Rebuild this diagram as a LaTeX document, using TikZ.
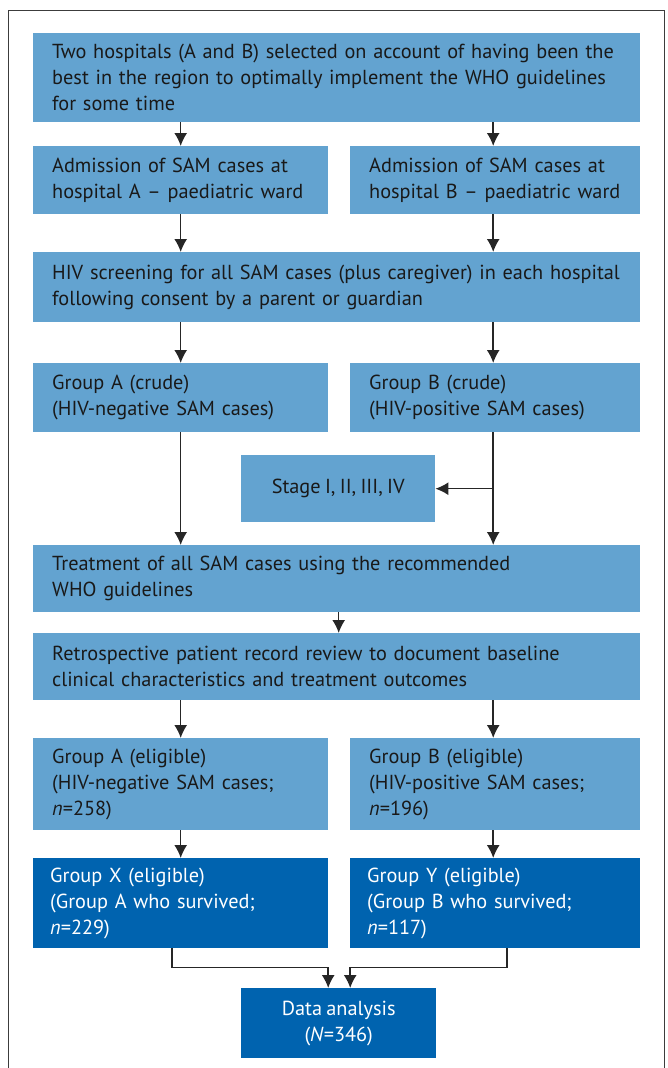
\documentclass[tikz,border=0pt]{standalone}
\usepackage{fontspec}
\setmainfont{PT Sans}[WordSpace=0.8]
\usetikzlibrary{arrows.meta}
\definecolor{lightb}{RGB}{99,163,208}
\definecolor{darkb}{RGB}{0,99,175}
\definecolor{framec}{RGB}{60,60,60}
\begin{document}
\begin{tikzpicture}[x=1pt,y=-1pt,
  box/.style={fill=lightb, text=black!90, inner xsep=19pt, inner ysep=0pt, align=left, anchor=north west, font=\fontsize{20.3}{26}\selectfont},
  dbox/.style={box, fill=darkb, text=white, inner xsep=17pt},
  cbox/.style={fill=lightb, text=black!90, inner sep=0pt, align=center, anchor=north west, font=\fontsize{20.3}{26}\selectfont},
  arr/.style={draw=black!85, line width=1.5pt, -{Latex[length=13pt,width=13pt]}},
  framebox/.style={draw=framec, line width=1pt}]
\useasboundingbox (0,0) rectangle (667,1068);
\draw[framebox] (8,10) rectangle (664,1090);

\node[box, text width=569pt, minimum height=89pt] (top) at (33,33)
  {Two hospitals (A and B) selected on account of having been the\\best in the region to optimally implement the WHO guidelines\\for some time};
\node[box, text width=257pt, minimum height=68pt] (adA) at (33,146)
  {Admission of SAM cases at\\hospital A -- paediatric ward};
\node[box, text width=252pt, minimum height=68pt] (adB) at (350,146)
  {Admission of SAM cases at\\hospital B -- paediatric ward};
\node[box, text width=569pt, minimum height=70pt] (hiv) at (33,252)
  {HIV screening for all SAM cases (plus caregiver) in each hospital\\following consent by a parent or guardian};
\node[box, text width=257pt, minimum height=69pt] (gA) at (33,363)
  {Group A (crude)\\(HIV-negative SAM cases)};
\node[box, text width=252pt, minimum height=69pt] (gB) at (350,363)
  {Group B (crude)\\(HIV-positive SAM cases)};
\node[cbox, minimum width=194pt, minimum height=67pt] (stage) at (241,455)
  {Stage I, II, III, IV};
\node[box, text width=569pt, minimum height=67pt] (treat) at (33,545)
  {Treatment of all SAM cases using the recommended\\WHO guidelines};
\node[box, text width=569pt, minimum height=67pt] (retro) at (33,633)
  {Retrospective patient record review to document baseline\\clinical characteristics and treatment outcomes};
\node[box, text width=257pt, minimum height=92pt] (eA) at (33,738)
  {Group A (eligible)\\(HIV-negative SAM cases;\\\textit{n}=258)};
\node[box, text width=252pt, minimum height=92pt] (eB) at (350,738)
  {Group B (eligible)\\(HIV-positive SAM cases;\\\textit{n}=196)};
\node[dbox, text width=261pt, minimum height=90pt] (gX) at (33,858)
  {Group X (eligible)\\(Group A who survived;\\\textit{n}=229)};
\node[dbox, text width=256pt, minimum height=90pt] (gY) at (350,858)
  {Group Y (eligible)\\(Group B who survived;\\\textit{n}=117)};
\node[cbox, fill=darkb, text=white, minimum width=195pt, minimum height=70pt] (data) at (241,988)
  {Data analysis\\(\textit{N}=346)};

\draw[arr] (top.south -| adA.north) -- (adA.north);
\draw[arr] ([xshift=-2pt]top.south -| adB.north) -- ([xshift=-2pt]adB.north);
\draw[arr] (adA.south) -- (hiv.north -| adA.south);
\draw[arr] ([xshift=-2pt]adB.south) -- ([xshift=-2pt]hiv.north -| adB.south);
\draw[arr] (hiv.south -| gA.north) -- (gA.north);
\draw[arr] ([xshift=-2pt]hiv.south -| gB.north) -- ([xshift=-2pt]gB.north);
\draw[arr] (gA.south) -- (treat.north -| gA.south);
\draw[arr] ([xshift=-2pt]gB.south) -- ([xshift=-2pt]treat.north -| gB.south);
\draw[arr] ([xshift=-2pt]stage.east -| gB.south) -- (stage.east);
\draw[arr] ([xshift=2pt]treat.south) -- ([xshift=2pt]retro.north);
\draw[arr] (retro.south -| eA.north) -- (eA.north);
\draw[arr] ([xshift=-2pt]retro.south -| eB.north) -- ([xshift=-2pt]eB.north);
\draw[arr] (eA.south) -- (gX.north -| eA.south);
\draw[arr] ([xshift=-2pt]eB.south) -- ([xshift=-2pt]gY.north -| eB.south);
\draw[arr] ([xshift=-8.5pt]gX.south) -- ++(0,19) -| ([xshift=-10.5pt]data.north);
\draw[arr] ([xshift=12pt]gY.south) -- ++(0,19) -| ([xshift=11.5pt]data.north);
\end{tikzpicture}
\end{document}
